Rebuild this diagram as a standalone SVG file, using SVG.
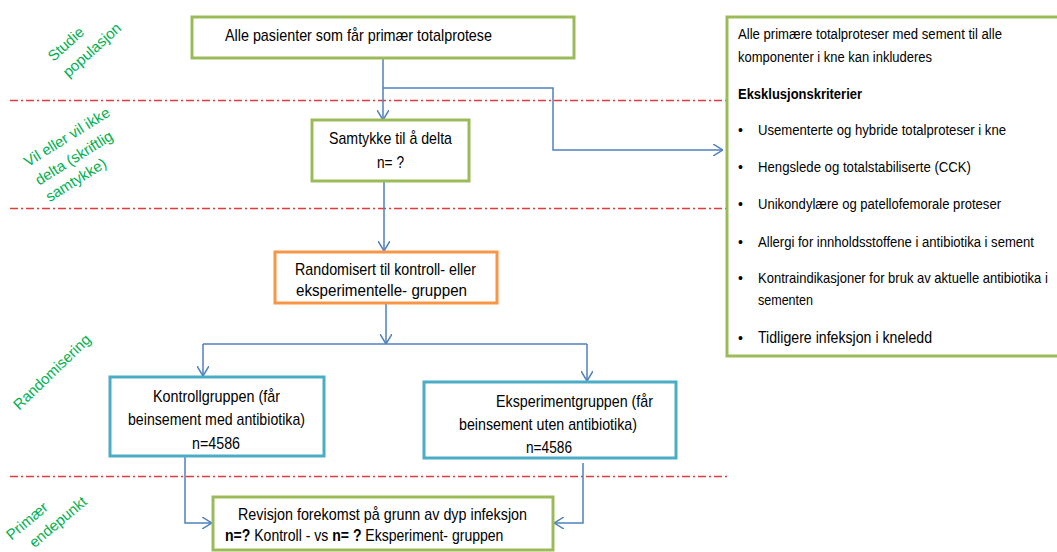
<svg xmlns="http://www.w3.org/2000/svg" width="1057" height="552" viewBox="0 0 1057 552">
<style>
  text { font-family: "Liberation Sans", Arial, sans-serif; fill: #000; }
  .t16 { font-size: 17px; }
  .t14 { font-size: 14px; }
  .b { font-weight: bold; }
  .lbl { font-size: 15px; fill: #00B050; text-anchor: middle; }
  .green { fill: #fff; stroke: #9BBB59; stroke-width: 3; }
  .blue { fill: #fff; stroke: #4BACC6; stroke-width: 3; }
  .orange { fill: #fff; stroke: #F79646; stroke-width: 3; }
  .conn { fill: none; stroke: #4F81BD; stroke-width: 1.5; }
  .sep { stroke: #E03C3C; stroke-width: 1.5; stroke-dasharray: 8 3 2 3; }
</style>
<defs>
  <marker id="arr" viewBox="0 0 10 12" refX="10" refY="6" markerWidth="10" markerHeight="12" markerUnits="userSpaceOnUse" orient="auto">
    <path d="M0,0 L10,6 L0,12" fill="none" stroke="#4F81BD" stroke-width="1.5"/>
  </marker>
</defs>
<rect width="1057" height="552" fill="#fff"/>

<g id="separators">
  <line class="sep" x1="10" y1="100.5" x2="727" y2="100.5"/>
  <line class="sep" x1="10" y1="208.5" x2="727" y2="208.5"/>
  <line class="sep" x1="10" y1="476.5" x2="727" y2="476.5"/>
</g>

<g id="labels">
  <text class="lbl" transform="translate(66,44) rotate(-42)"><tspan x="0" y="5">Studie</tspan></text>
  <text class="lbl" transform="translate(92,50) rotate(-42)"><tspan x="0" y="5">populasjon</tspan></text>
  <text class="lbl" transform="translate(67,137) rotate(-32)"><tspan x="0" y="5">Vil eller vil ikke</tspan></text>
  <text class="lbl" transform="translate(74,158) rotate(-32)"><tspan x="0" y="5">delta (skriftlig</tspan></text>
  <text class="lbl" transform="translate(76,180) rotate(-32)"><tspan x="0" y="5">samtykke)</tspan></text>
  <text class="lbl" transform="translate(52,372) rotate(-44)"><tspan x="0" y="5">Randomisering</tspan></text>
  <text class="lbl" transform="translate(27,521) rotate(-40)"><tspan x="0" y="5">Primær</tspan></text>
  <text class="lbl" transform="translate(58,522) rotate(-40)"><tspan x="0" y="5">endepunkt</tspan></text>
</g>

<g id="connectors">
  <path class="conn" d="M383,59 V120" marker-end="url(#arr)"/>
  <path class="conn" d="M383,88 H553 V150 H723" marker-end="url(#arr)"/>
  <path class="conn" d="M384,181 V251" marker-end="url(#arr)"/>
  <path class="conn" d="M386,304 V344" marker-end="url(#arr)"/>
  <path class="conn" d="M203,344 H587"/>
  <path class="conn" d="M203,344 V376" marker-end="url(#arr)"/>
  <path class="conn" d="M587,344 V381" marker-end="url(#arr)"/>
  <path class="conn" d="M185,457 V523 H212" marker-end="url(#arr)"/>
  <path class="conn" d="M583,463 V523 H554" marker-end="url(#arr)"/>
</g>

<g id="node-alle">
  <rect class="green" x="192" y="17" width="382" height="41"/>
  <text class="t16" x="225" y="41" textLength="267" lengthAdjust="spacingAndGlyphs">Alle pasienter som får primær totalprotese</text>
</g>

<g id="node-samtykke">
  <rect class="green" x="312" y="120" width="157" height="61"/>
  <text class="t16" x="329" y="144" textLength="123" lengthAdjust="spacingAndGlyphs">Samtykke  til å delta</text>
  <text class="t16" x="377" y="168" textLength="27" lengthAdjust="spacingAndGlyphs">n= ?</text>
</g>

<g id="node-randomisert">
  <rect class="orange" x="275" y="252" width="222" height="51"/>
  <text class="t16" x="295" y="275" textLength="181" lengthAdjust="spacingAndGlyphs">Randomisert  til kontroll-  eller</text>
  <text class="t16" x="296" y="296" textLength="171" lengthAdjust="spacingAndGlyphs">eksperimentelle-  gruppen</text>
</g>

<g id="node-kontroll">
  <rect class="blue" x="110" y="377" width="214" height="79"/>
  <text class="t16" x="153" y="402" textLength="127" lengthAdjust="spacingAndGlyphs">Kontrollgruppen  (får</text>
  <text class="t16" x="128" y="425" textLength="177" lengthAdjust="spacingAndGlyphs">beinsement  med antibiotika)</text>
  <text class="t16" x="192" y="449" textLength="48" lengthAdjust="spacingAndGlyphs">n=4586</text>
</g>

<g id="node-eksperiment">
  <rect class="blue" x="424" y="382" width="252" height="76"/>
  <text class="t16" x="496" y="407" textLength="157" lengthAdjust="spacingAndGlyphs">Eksperimentgruppen  (får</text>
  <text class="t16" x="459" y="430" textLength="178" lengthAdjust="spacingAndGlyphs">beinsement  uten antibiotika)</text>
  <text class="t16" x="526" y="453" textLength="46" lengthAdjust="spacingAndGlyphs">n=4586</text>
</g>

<g id="node-revisjon">
  <rect class="green" x="213" y="497" width="340" height="53"/>
  <text class="t16" x="238" y="520" textLength="289" lengthAdjust="spacingAndGlyphs">Revisjon forekomst på grunn av dyp infeksjon</text>
  <text class="t16" transform="translate(225,541) scale(0.826,1)" x="0" y="0"><tspan class="b">n=?</tspan> Kontroll - vs <tspan class="b">n= ?</tspan> Eksperiment- gruppen</text>
</g>

<g id="node-kriterier">
  <rect class="green" x="727" y="17" width="345" height="339"/>
  <text class="t14" x="738" y="39" textLength="264" lengthAdjust="spacingAndGlyphs">Alle primære totalproteser  med sement til alle</text>
  <text class="t14" x="738" y="62" textLength="194" lengthAdjust="spacingAndGlyphs">komponenter  i kne kan inkluderes</text>
  <text class="t14 b" x="738" y="99" textLength="124" lengthAdjust="spacingAndGlyphs">Eksklusjonskriterier</text>
  <text class="t14" x="738" y="135">•</text>
  <text class="t14" x="758" y="135" textLength="248" lengthAdjust="spacingAndGlyphs">Usementerte og hybride totalproteser  i kne</text>
  <text class="t14" x="738" y="172">•</text>
  <text class="t14" x="758" y="172" textLength="213" lengthAdjust="spacingAndGlyphs">Hengslede og totalstabiliserte  (CCK)</text>
  <text class="t14" x="738" y="209">•</text>
  <text class="t14" x="758" y="209" textLength="243" lengthAdjust="spacingAndGlyphs">Unikondylære og patellofemorale  proteser</text>
  <text class="t14" x="738" y="247">•</text>
  <text class="t14" x="758" y="247" textLength="276" lengthAdjust="spacingAndGlyphs">Allergi for innholdsstoffene  i antibiotika  i sement</text>
  <text class="t14" x="738" y="283">•</text>
  <text class="t14" transform="translate(758,283) scale(0.93,1)" x="0" y="0">Kontraindikasjoner for bruk av aktuelle antibiotika i</text>
  <text class="t14" x="758" y="305" textLength="55" lengthAdjust="spacingAndGlyphs">sementen</text>
  <text class="t14" x="738" y="343">•</text>
  <text class="t16" x="758" y="343" textLength="174" lengthAdjust="spacingAndGlyphs">Tidligere  infeksjon i kneledd</text>
</g>
</svg>
